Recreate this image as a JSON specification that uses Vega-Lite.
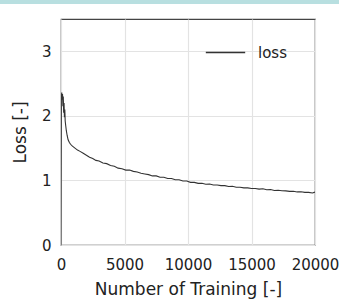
{
  "$schema": "https://vega.github.io/schema/vega-lite/v6.json",
  "autosize": "none",
  "width": 254,
  "height": 226,
  "padding": {"left": 61, "top": 19, "right": 24, "bottom": 55},
  "background": "white",
  "config": {
    "font": "DejaVu Sans",
    "view": {"stroke": "#444444", "strokeWidth": 1.2},
    "axis": {
      "domain": false,
      "ticks": false,
      "grid": true,
      "gridColor": "#e3e3e3",
      "gridWidth": 1.2,
      "labelFont": "DejaVu Sans",
      "labelFontSize": 15,
      "labelColor": "#222222",
      "labelOverlap": false,
      "labelFlush": false,
      "labelBound": false,
      "titleFont": "DejaVu Sans",
      "titleFontSize": 17,
      "titleFontWeight": "normal",
      "titleColor": "#222222"
    },
    "legend": {
      "orient": "none",
      "legendX": 144,
      "legendY": 13,
      "symbolType": "stroke",
      "symbolSize": 1550,
      "symbolStrokeWidth": 1.3,
      "labelFont": "DejaVu Sans",
      "labelFontSize": 15,
      "labelColor": "#222222",
      "labelOffset": 12,
      "title": null
    }
  },
  "layer": [
    {
      "data": {"values": [{"band": "top"}]},
      "mark": {"type": "rect", "clip": false, "color": "#b8dfe0"},
      "encoding": {
        "x": {"datum": -6000, "type": "quantitative", "scale": {"domain": [0, 20000]}},
        "x2": {"datum": 24000},
        "y": {"datum": 3.732, "type": "quantitative", "scale": {"domain": [0, 3.5]}},
        "y2": {"datum": 4.5}
      }
    },
    {
      "data": {
        "values": [
          {"step": 0, "loss": 0.0},
          {"step": 30, "loss": 2.3},
          {"step": 60, "loss": 2.36},
          {"step": 90, "loss": 2.25},
          {"step": 120, "loss": 2.34},
          {"step": 150, "loss": 2.15},
          {"step": 180, "loss": 2.3},
          {"step": 210, "loss": 2.05},
          {"step": 240, "loss": 2.2},
          {"step": 270, "loss": 1.98},
          {"step": 300, "loss": 2.1},
          {"step": 330, "loss": 1.92},
          {"step": 370, "loss": 1.85},
          {"step": 420, "loss": 1.77},
          {"step": 480, "loss": 1.7},
          {"step": 560, "loss": 1.63},
          {"step": 650, "loss": 1.59},
          {"step": 750, "loss": 1.56},
          {"step": 900, "loss": 1.53},
          {"step": 1100, "loss": 1.5},
          {"step": 1300, "loss": 1.47},
          {"step": 1500, "loss": 1.45},
          {"step": 1750, "loss": 1.42},
          {"step": 2000, "loss": 1.39},
          {"step": 2250, "loss": 1.36},
          {"step": 2500, "loss": 1.34},
          {"step": 2750, "loss": 1.31},
          {"step": 3000, "loss": 1.3},
          {"step": 3300, "loss": 1.27},
          {"step": 3600, "loss": 1.26},
          {"step": 3900, "loss": 1.23},
          {"step": 4200, "loss": 1.22},
          {"step": 4500, "loss": 1.19},
          {"step": 4800, "loss": 1.18},
          {"step": 5100, "loss": 1.16},
          {"step": 5400, "loss": 1.16},
          {"step": 5700, "loss": 1.14},
          {"step": 6000, "loss": 1.13},
          {"step": 6300, "loss": 1.11},
          {"step": 6600, "loss": 1.1},
          {"step": 6900, "loss": 1.09},
          {"step": 7200, "loss": 1.07},
          {"step": 7500, "loss": 1.07},
          {"step": 7800, "loss": 1.05},
          {"step": 8100, "loss": 1.05},
          {"step": 8400, "loss": 1.03},
          {"step": 8700, "loss": 1.03},
          {"step": 9000, "loss": 1.01},
          {"step": 9300, "loss": 1.01},
          {"step": 9600, "loss": 0.99},
          {"step": 9900, "loss": 0.99},
          {"step": 10200, "loss": 0.97},
          {"step": 10500, "loss": 0.97},
          {"step": 10800, "loss": 0.955},
          {"step": 11100, "loss": 0.955},
          {"step": 11400, "loss": 0.94},
          {"step": 11700, "loss": 0.945},
          {"step": 12000, "loss": 0.93},
          {"step": 12300, "loss": 0.93},
          {"step": 12600, "loss": 0.92},
          {"step": 12900, "loss": 0.92},
          {"step": 13200, "loss": 0.905},
          {"step": 13500, "loss": 0.91},
          {"step": 13800, "loss": 0.895},
          {"step": 14100, "loss": 0.895},
          {"step": 14400, "loss": 0.885},
          {"step": 14700, "loss": 0.885},
          {"step": 15000, "loss": 0.875},
          {"step": 15300, "loss": 0.875},
          {"step": 15600, "loss": 0.865},
          {"step": 15900, "loss": 0.87},
          {"step": 16200, "loss": 0.855},
          {"step": 16500, "loss": 0.86},
          {"step": 16800, "loss": 0.845},
          {"step": 17100, "loss": 0.848},
          {"step": 17400, "loss": 0.84},
          {"step": 17700, "loss": 0.838},
          {"step": 18000, "loss": 0.83},
          {"step": 18300, "loss": 0.832},
          {"step": 18600, "loss": 0.822},
          {"step": 18900, "loss": 0.824},
          {"step": 19200, "loss": 0.815},
          {"step": 19500, "loss": 0.815},
          {"step": 19800, "loss": 0.805},
          {"step": 20000, "loss": 0.82}
        ]
      },
      "mark": {"type": "line", "strokeWidth": 1.1, "clip": true},
      "encoding": {
        "x": {
          "field": "step",
          "type": "quantitative",
          "scale": {"domain": [0, 20000], "nice": false},
          "axis": {"values": [0, 5000, 10000, 15000, 20000], "format": "d", "labelPadding": 12, "title": "Number of Training [-]", "titlePadding": 9}
        },
        "y": {
          "field": "loss",
          "type": "quantitative",
          "scale": {"domain": [0, 3.5], "nice": false},
          "axis": {"values": [0, 1, 2, 3], "format": "d", "labelPadding": 10, "title": "Loss [-]", "titlePadding": 12}
        },
        "color": {
          "datum": "loss",
          "type": "nominal",
          "scale": {"range": ["#333333"]}
        }
      }
    }
  ]
}
